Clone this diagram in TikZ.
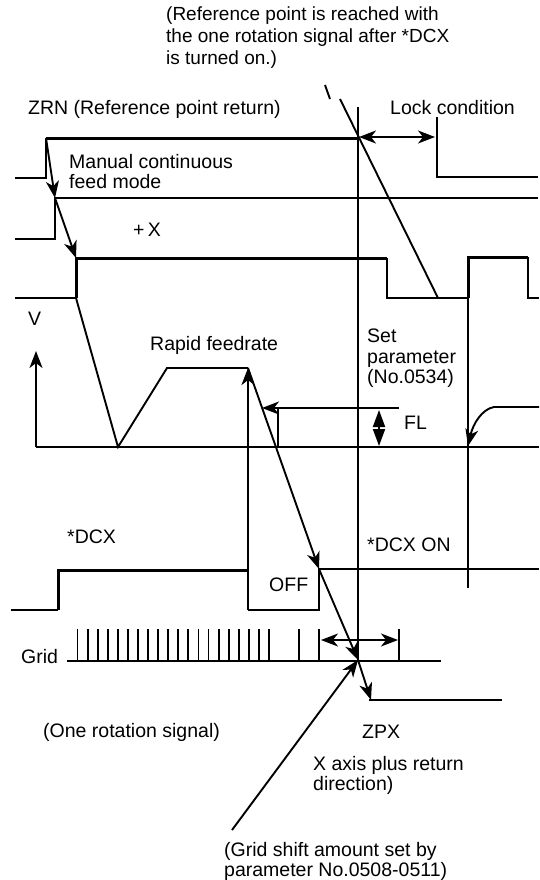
\documentclass[tikz,border=0pt]{standalone}
\usepackage{fontspec}
\setmainfont{Liberation Sans}
\usetikzlibrary{arrows.meta,positioning}

\begin{document}
\begin{tikzpicture}[x=1pt,y=-1pt,
  lbl/.style={inner sep=0pt,anchor=base west,font=\fontsize{19.5}{20.5}\selectfont},
  para/.style={inner sep=0pt,anchor=north west,align=left,font=\fontsize{19.5}{20.5}\selectfont},
  wave/.style={line width=1.9pt},
  hwave/.style={line width=3pt},
  tip/.style={-{Stealth[length=17pt,width=13pt,inset=5pt]},line width=1.9pt},
  ttip/.style={{Stealth[length=17pt,width=13pt,inset=5pt]}-{Stealth[length=17pt,width=13pt,inset=5pt]},line width=1.9pt},
  dtip/.style={{Stealth[length=17pt,width=12pt,inset=0pt]}-{Stealth[length=17pt,width=12pt,inset=0pt]},line width=1.9pt}]
\useasboundingbox (0,0) rectangle (539,880);

% event points
\coordinate (zrn) at (46,138);
\coordinate (man) at (55,198);
\coordinate (plus) at (76,258);
\coordinate (peak) at (248,368);
\coordinate (off) at (319,569);
\coordinate (cross) at (358,660);
\coordinate (zpx) at (371,700);
\coordinate (far) at (232,830);
\coordinate (lockl) at (359,137);
\coordinate (lockr) at (435,137);
\coordinate (gridl) at (321,640);
\coordinate (gridr) at (398,640);
\coordinate (fls) at (399,408);
\coordinate (fle) at (262,408);
\coordinate (flt) at (379,410);
\coordinate (flb) at (379,446);
\coordinate (rise) at (468,446);
\coordinate (v) at (36,351);

% signals
\draw[wave] (15,178) -- (46,178) -- (zrn);
\draw[hwave] (zrn) -- (357,138);
\draw[wave] (437,117) -- (437,177) -- (538,177);
\draw[wave] (15,239) -- (55,239) -- (man) -- (538,198);
\draw[wave] (15,298) -- (76,298);
\draw[hwave] (76,298) -- (plus) -- (387,258);
\draw[wave] (387,258) -- (387,298) -- (468,298);
\draw[hwave] (468,298) -- (468,257) -- (528,257);
\draw[wave] (528,257) -- (528,298) -- (539,298);

% velocity
\draw[wave] (76,298) -- (118,447) -- (167,368) -- (peak);
\draw[wave] (36,447) -- (539,447);
\draw[tip] (36,447) -- (v);
\draw[wave] (278,408) -- (278,447);
\draw[tip] (fls) -- (fle);
\draw[dtip] (flt) -- (flb);
\draw[tip] (539,407) -- (494,407) .. controls (482,409) and (473,424) .. (rise);

% *DCX
\draw[wave,line width=2.2pt] (11,610) -- (58,610);
\draw[hwave] (58,610) -- (58,570) -- (248,570);
\draw[wave] (248,610) -- (319,610) -- (off) -- (539,569);
\draw[tip,line width=2.6pt] (248,610) -- (peak);

% grid
\draw[wave] (67,661) -- (441,661);
\foreach \gx in {0,...,19}
  \draw[wave] ({77.5+10.08*\gx},629) -- ({77.5+10.08*\gx},661);
\foreach \gx in {299,319,399}
  \draw[wave] (\gx,629) -- (\gx,661);
\draw[ttip] (gridl) -- (gridr);

% verticals and slopes
\draw[wave] (358,107) -- (cross);
\draw[wave] (468,298) -- (468,588);
\draw[wave] (325,85) -- (330,99);
\draw[wave] (340,99) -- (438,298);
\draw[tip] (zrn) -- (man);
\draw[tip] (man) -- (plus);
\draw[tip] (peak) -- (off);
\draw[tip] (off) -- (cross);
\draw[tip] (cross) -- (zpx);
\draw[tip] (far) -- (cross);
\draw[ttip] (lockl) -- (lockr);
\draw[wave] (369,700) -- (502,700);

% texts
\node[para,font=\fontsize{19}{22}\selectfont] (note) at (166,7) {(Reference point is reached with\\the one rotation signal after *DCX\\is turned on.)};
\node[lbl] (zrntxt) at (28,115) {ZRN (Reference point return)};
\node[lbl] (lock) at (390,114) {Lock condition};
\node[para] (manual) at (69,154) {Manual continuous\\feed mode};
\node[lbl] (plusx) at (133,236) {+\,X};
\node[lbl] (vtxt) at (28,325) {V};
\node[lbl] (rapid) at (150,350) {Rapid feedrate};
\node[para] (setp) at (367,329) {Set\\parameter\\(No.0534)};
\node[lbl] (fl) at (404,429) {FL};
\node[lbl] (dcx) at (67,543) {*DCX};
\node[lbl] (dcxon) at (367,551) {*DCX ON};
\node[lbl] (offtxt) at (269,591) {OFF};
\node[lbl] (grid) at (21,663) {Grid};
\node[lbl] (one) at (43,737) {(One rotation signal)};
\node[lbl] (zpxtxt) at (362,738) {ZPX};
\node[para] (axis) at (313,756) {X axis plus return\\direction)};
\node[para] (shift) at (224,842) {(Grid shift amount set by\\parameter No.0508-0511)};
\end{tikzpicture}
\end{document}
